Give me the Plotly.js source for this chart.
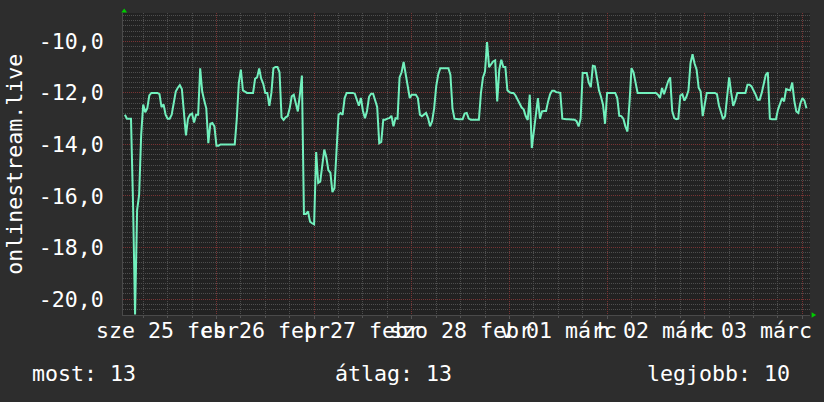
<!DOCTYPE html>
<html><head><meta charset="utf-8">
<script src="https://cdn.plot.ly/plotly-3.0.1.min.js"></script>
<style>html,body{margin:0;padding:0;background:#2d2d2d;}#chart{width:824px;height:402px;}</style>
</head><body><div id="chart"></div>
<script>
// ---- data ----
const seriesName = 'onlinestream.live';
const startTime = '2026-02-24T01:30:00Z';   // first sample
const stepMinutes = 30;                      // sample step
const values = [
 -12.85,-13.0,-13.0,-13.0,-16.3,-20.6,-16.55,-15.95,-13.62,-12.45,
 -12.75,-12.6,-12.1,-12.0,-12.0,-12.0,-12.0,-12.05,-12.55,-12.45,
 -12.85,-13.0,-13.0,-12.85,-12.35,-11.95,-11.8,-11.7,-11.85,-12.85,
 -13.65,-13.0,-12.85,-12.8,-13.15,-12.85,-12.85,-11.05,-11.95,-12.3,
 -12.6,-13.95,-13.2,-13.17,-13.3,-14.05,-14.05,-14.0,-14.0,-14.0,
 -14.0,-14.0,-14.0,-14.0,-14.0,-13.0,-11.6,
 -11.1,-11.9,-11.95,-12.0,-12.0,-12.0,-12.0,-11.45,-11.4,-11.05,
 -11.45,-11.65,-12.0,-12.0,-12.5,-12.0,-11.04,-11.0,-11.0,-11.2,
 -12.95,-13.05,-12.95,-12.9,-12.6,-12.13,-12.07,-12.4,-12.72,-12.07,
 -11.33,-16.7,-16.7,-16.6,-17.0,-17.06,-17.1,-14.3,-15.5,-15.45,
 -14.8,-14.2,-14.5,-15.0,-15.1,-15.85,-15.7,-14.3,-12.85,-12.78,
 -12.85,-12.2,-12.0,-12.0,-12.0,-12.0,
 -12.03,-12.3,-12.5,-12.2,-12.7,-12.98,-12.7,-12.15,-12.03,-12.03,
 -12.3,-12.55,-13.95,-13.9,-13.04,-13.04,-13.0,-12.98,-12.89,-13.3,
 -12.98,-13.0,-11.4,-11.2,-10.8,-11.29,-11.85,-12.2,-12.07,-12.07,
 -12.07,-12.2,-12.85,-12.91,-12.85,-12.78,-12.98,-13.3,-13.1,-12.6,
 -11.75,-11.29,-11.04,-11.04,-11.04,-11.04,-11.04,-11.3,-12.6,-13.0,
 -13.02,-13.02,-13.02,-13.02,-12.8,-12.78,-13.0,
 -13.04,-13.04,-13.04,-13.04,-13.04,-12.0,-11.4,-11.17,-10.03,-11.0,
 -10.9,-10.78,-10.74,-12.33,-11.1,-10.71,-11.0,-11.0,-11.9,-11.97,
 -12.0,-12.0,-12.1,-12.27,-12.45,-12.57,-12.64,-12.9,-13.05,-12.07,
 -14.14,-13.56,-12.91,-12.2,-13.0,-12.72,-12.7,-12.7,-12.33,-12.05,
 -11.92,-11.92,-11.97,-12.0,-12.0,-13.0,-13.02,-13.02,-13.02,-13.02,
 -13.02,-13.04,-13.1,-13.3,-13.0,-11.23,
 -11.23,-11.23,-11.6,-11.78,-10.95,-10.97,-11.42,-11.9,-12.15,-12.46,
 -13.2,-12.0,-12.0,-12.0,-12.0,-12.0,-12.2,-12.89,-12.9,-13.0,
 -13.3,-13.5,-12.4,-11.04,-11.2,-11.68,-12.0,-12.0,-12.0,-12.0,
 -12.0,-12.0,-12.0,-12.0,-12.0,-12.0,-12.07,-12.2,-11.81,-12.05,
 -11.8,-11.55,-11.4,-12.7,-12.98,-13.02,-13.0,-12.1,-12.05,-12.3,
 -12.15,-11.9,-10.85,-10.5,-10.86,-11.1,-11.8,
 -11.95,-12.9,-12.5,-12.0,-12.0,-12.0,-12.0,-12.0,-12.05,-12.5,
 -12.75,-13.02,-12.9,-12.15,-11.4,-12.0,-12.5,-12.3,-12.0,-12.0,
 -12.0,-12.0,-12.0,-11.68,-11.68,-11.75,-11.9,-12.07,-12.27,-12.27,
 -12.0,-11.68,-11.3,-11.2,-13.0,-13.02,-13.02,-13.02,-12.65,-12.4,
 -12.2,-12.33,-11.85,-11.88,-11.9,-11.6,-12.3,-12.72,-12.78,-12.4,
 -12.2,-12.3,-12.6
];
const dayLabels = ['sze 25 febr','cs 26 febr','p 27 febr','szo 28 febr','v 01 márc','h 02 márc','k 03 márc'];
const dayLabelTimes = ['2026-02-24 12:00','2026-02-25 12:00','2026-02-26 12:00','2026-02-27 12:00','2026-02-28 12:00','2026-03-01 12:00','2026-03-02 12:00'];
const yTickValues = [-20,-18,-16,-14,-12,-10];
const yTickLabels = ['-20,0','-18,0','-16,0','-14,0','-12,0','-10,0'];
const legendTexts = ['most: 13','átlag: 13','legjobb: 10'];
const xRange = ['2026-02-24 01:02:00','2026-03-03 01:52:00'];
const yRange = [-20.62,-8.9];

// ---- build ----
function fmt(ms){return new Date(ms).toISOString().slice(0,19).replace('T',' ');}
const t0 = Date.parse(startTime);
const times = values.map((v,i)=>fmt(t0 + i*stepMinutes*60000));

const FONT = 'DejaVu Sans Mono';
const FS = 21.6;
const W = 824, H = 402, L = 123.3, R = 810, T = 13.3, B = 315;
const pw = R-L, ph = B-T;
const px = x => (x-L)/pw, py = y => (B-y)/ph;

const annotations = [];
dayLabels.forEach((txt,i)=>annotations.push({
  text: txt, x: dayLabelTimes[i], xref:'x', y: py(330.5), yref:'paper',
  xanchor:'center', yanchor:'middle', showarrow:false, borderpad:0, borderwidth:0,
  font:{family:FONT,size:FS,color:'#ffffff'}
}));
annotations.push({text: seriesName, textangle:-90, x: px(14), xref:'paper', y:0.5, yref:'paper',
  xanchor:'center', yanchor:'middle', showarrow:false, borderpad:0,
  font:{family:FONT,size:FS,color:'#ffffff'}});
const legendPos = [{x:px(31.3),a:'left'},{x:px(333.8),a:'left'},{x:px(791.5),a:'right'}];
legendTexts.forEach((txt,i)=>annotations.push({text:txt, x:legendPos[i].x, xref:'paper', y:py(373), yref:'paper',
  xanchor:legendPos[i].a, yanchor:'middle', showarrow:false, borderpad:0,
  font:{family:FONT,size:FS,color:'#ffffff'}}));

const green = '#00cc00';
const shapes = [
  {type:'path', xref:'paper', yref:'paper', fillcolor:green, line:{width:0},
   path:`M ${px(124.5)} ${py(8.8)} L ${px(121.6)} ${py(12.8)} L ${px(127.4)} ${py(12.8)} Z`},
  {type:'path', xref:'paper', yref:'paper', fillcolor:green, line:{width:0},
   path:`M ${px(816.2)} ${py(315)} L ${px(811.6)} ${py(312.2)} L ${px(811.6)} ${py(317.8)} Z`}
];

const redGrid = '#7a3434', grayGrid = '#4e4e4e';
const trace = {x: times, y: values, type:'scatter', mode:'lines', name: seriesName,
  line:{color:'#72f0bd', width:2}, hoverinfo:'skip'};

const layout = {
  width:W, height:H, paper_bgcolor:'#2d2d2d', plot_bgcolor:'#222222',
  margin:{l:L, r:W-R, t:T, b:H-B, pad:0}, showlegend:false,
  xaxis:{type:'date', range:xRange, showticklabels:false, zeroline:false,
    tick0:'2026-02-25', dtick:86400000, showgrid:true, gridcolor:redGrid, griddash:'1px,1px', gridwidth:1,
    ticks:'outside', ticklen:3, tickcolor:'#555555',
    showline:true, linecolor:'#4a4a4a', linewidth:1,
    minor:{tick0:'2026-02-25', dtick:21600000, showgrid:true, gridcolor:grayGrid, griddash:'1px,1px', gridwidth:1,
      ticks:'outside', ticklen:2, tickcolor:'#555555'}},
  yaxis:{range:yRange, tickvals:yTickValues, ticktext:yTickLabels, zeroline:false,
    showgrid:true, gridcolor:redGrid, griddash:'1px,1px', gridwidth:1,
    ticks:'', ticklabelstandoff:14,
    showline:true, linecolor:'#4a4a4a', linewidth:1,
    tickfont:{family:FONT, size:FS, color:'#ffffff'},
    minor:{tick0:-10, dtick:0.2, showgrid:true, gridcolor:grayGrid, griddash:'1px,1px', gridwidth:1}},
  annotations, shapes
};
Plotly.newPlot('chart',[trace],layout,{staticPlot:true, displayModeBar:false});
</script></body></html>
